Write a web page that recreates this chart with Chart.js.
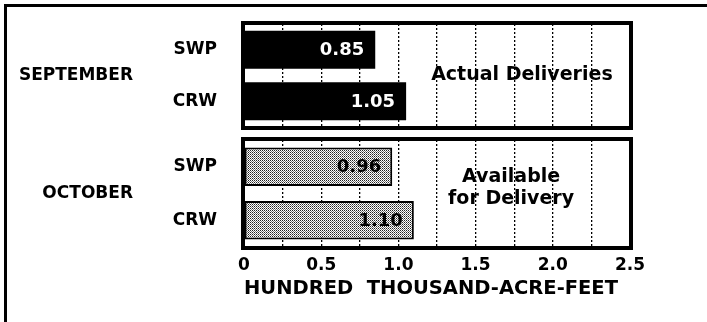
<!DOCTYPE html>
<html>
<head>
<meta charset="utf-8">
<script src="https://cdn.jsdelivr.net/npm/chart.js@4/dist/chart.umd.min.js"></script>
<style>
  body { margin: 0; width: 707px; height: 322px; overflow: hidden; background: #fff; }
  #frame { position: absolute; left: 4px; top: 4px; width: 720px; height: 330px;
           border-left: 3px solid #000; border-top: 3px solid #000; }
  canvas { position: absolute; left: 0; }
  #topChart { top: 0; }
  #bottomChart { top: 134px; }
</style>
</head>
<body>
<div id="frame"></div>
<canvas id="topChart" width="707" height="134"></canvas>
<canvas id="bottomChart" width="707" height="188"></canvas>
<script>
// DATA
const months = ["SEPTEMBER", "OCTOBER"];
const sources = ["SWP", "CRW"];
const septValues = [0.85, 1.05];
const octValues = [0.96, 1.10];
const xTickValues = [0, 0.5, 1.0, 1.5, 2.0, 2.5];
const xTickLabels = ["0", "0.5", "1.0", "1.5", "2.0", "2.5"];
const septNote = ["Actual Deliveries"];
const octNote = ["Available", "for Delivery"];
const xTitle = "HUNDRED  THOUSAND-ACRE-FEET";

const FONT = "'DejaVu Sans', sans-serif";

// dotted fill for the october bars
function makeStipple() {
  const c = document.createElement("canvas");
  c.width = 2;
  c.height = 2;
  const g = c.getContext("2d");
  g.fillStyle = "#fff";
  g.fillRect(0, 0, 2, 2);
  g.fillStyle = "#222";
  g.fillRect(0, 0, 1, 1);
  g.fillStyle = "#777";
  g.fillRect(1, 1, 1, 1);
  return g.createPattern(c, "repeat");
}

// frame, value labels and panel note
const panelPlugin = {
  id: "panel",
  afterDatasetsDraw(chart, args, opts) {
    const ctx = chart.ctx;
    const area = chart.chartArea;
    const meta = chart.getDatasetMeta(0);
    ctx.save();
    ctx.font = "bold 18px " + FONT;
    ctx.textAlign = "right";
    ctx.textBaseline = "middle";
    ctx.fillStyle = opts.labelColor;
    meta.data.forEach((bar, i) => {
      const v = chart.data.datasets[0].data[i];
      ctx.fillText(v.toFixed(2), bar.x - 11, bar.y + 1);
    });

    ctx.fillStyle = "#000";
    ctx.textAlign = "center";
    ctx.font = "bold 19px " + FONT;
    const nx = chart.scales.x.getPixelForValue(opts.noteAt);
    const cy = (area.top + area.bottom) / 2;
    const n = opts.note.length;
    opts.note.forEach((line, i) => {
      ctx.fillText(line, nx, cy + (i - (n - 1) / 2) * 22 - (n > 1 ? 5 : 0));
    });

    ctx.lineWidth = 4;
    ctx.strokeStyle = "#000";
    ctx.strokeRect(area.left - 1, area.top - 1, area.width + 2, area.height + 2);
    ctx.restore();
  }
};

function noPad(s) {
  s.paddingTop = 0;
  s.paddingBottom = 0;
  s.paddingLeft = 0;
  s.paddingRight = 0;
}

function buildChart(id, monthIndex, values, showAxis) {
  const ctx = document.getElementById(id).getContext("2d");
  const isOct = monthIndex === 1;
  return new Chart(ctx, {
    type: "bar",
    data: {
      labels: sources,
      datasets: [{
        data: values,
        backgroundColor: isOct ? makeStipple() : "#000",
        borderColor: "#000",
        borderWidth: isOct ? 2 : 0,
        borderSkipped: false,
        barPercentage: isOct ? 0.72 : 0.74,
        categoryPercentage: 1
      }]
    },
    options: {
      indexAxis: "y",
      responsive: false,
      animation: false,
      events: [],
      layout: { padding: isOct ? { top: 6, bottom: 5, right: 77, left: 0 } : { top: 24, bottom: 7, right: 77, left: 0 } },
      plugins: {
        legend: { display: false },
        tooltip: { enabled: false },
        panel: {
          labelColor: isOct ? "#000" : "#fff",
          note: isOct ? octNote : septNote,
          noteAt: isOct ? 1.73 : 1.8
        }
      },
      scales: {
        x: {
          min: 0,
          max: 2.5,
          border: { display: false, dash: [2, 2] },
          grid: {
            drawTicks: false,
            lineWidth: 1.3,
            color: (c) => (c.tick && (c.tick.value === 0 || c.tick.value === 2.5)) ? "rgba(0,0,0,0)" : "#000"
          },
          ticks: {
            display: showAxis,
            stepSize: 0.25,
            autoSkip: false,
            maxRotation: 0,
            padding: 8,
            color: "#000",
            font: { family: FONT, size: 17, weight: "bold" },
            callback: (v) => {
              const k = xTickValues.indexOf(v);
              return k >= 0 ? xTickLabels[k] : "";
            }
          },
          title: {
            display: showAxis,
            text: xTitle,
            align: "start",
            color: "#000",
            padding: { top: 0, bottom: 16 },
            font: { family: FONT, size: 19.5, weight: "bold" }
          },
          afterFit: (s) => {
            s.height = showAxis ? 70 : 0;
            noPad(s);
          }
        },
        y: {
          weight: 0,
          grid: { display: false, drawTicks: false },
          border: { display: false },
          ticks: {
            padding: 27,
            color: "#000",
            font: { family: FONT, size: 17, weight: "bold" }
          },
          afterFit: (s) => { s.width = 94; noPad(s); }
        },
        m: {
          type: "category",
          position: "left",
          weight: 1,
          offset: true,
          labels: [months[monthIndex]],
          grid: { display: false, drawTicks: false },
          border: { display: false },
          ticks: {
            padding: 17,
            color: "#000",
            font: { family: FONT, size: 17, weight: "bold" }
          },
          afterFit: (s) => { s.width = 150; noPad(s); }
        }
      }
    },
    plugins: [panelPlugin]
  });
}

buildChart("topChart", 0, septValues, false);
buildChart("bottomChart", 1, octValues, true);
</script>
</body>
</html>
